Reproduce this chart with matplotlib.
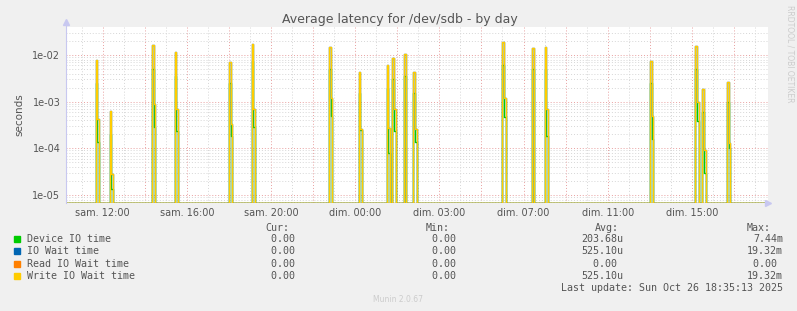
import numpy as np
import matplotlib
matplotlib.use("Agg")
import matplotlib.pyplot as plt

# ---------------- data ----------------
# hours relative to "sam. 12:00"
spike_hours = [-0.30, 0.33, 2.37, 3.44, 5.97, 7.08, 10.73, 12.20, 13.46, 13.75,
               14.32, 14.75, 18.99, 20.41, 21.00, 25.99, 28.14, 28.49, 29.63]
write_peak = [7.8e-3, 6.4e-4, 1.63e-2, 1.16e-2, 7.2e-3, 1.7e-2, 1.5e-2, 4.4e-3, 6.1e-3, 8.8e-3,
              1.05e-2, 4.4e-3, 1.932e-2, 1.43e-2, 1.5e-2, 7.3e-3, 1.55e-2, 1.9e-3, 2.7e-3]
write_tail = [4.3e-4, 2.8e-5, 9.1e-4, 6.8e-4, 3.4e-4, 7.1e-4, 1.2e-3, 2.6e-4, 2.7e-4, 7.0e-4,
              0.0, 2.6e-4, 1.2e-3, 0.0, 6.8e-4, 5.0e-4, 1.0e-3, 9.1e-5, 1.27e-4]
device_peak = [2.5e-3, 2.0e-4, 5.0e-3, 3.5e-3, 2.5e-3, 7.44e-3, 5.0e-3, 1.5e-3, 2.0e-3, 3.0e-3,
               3.5e-3, 1.5e-3, 6.0e-3, 5.0e-3, 5.0e-3, 2.5e-3, 5.0e-3, 6.0e-4, 1.0e-3]
device_tail = [1.4e-4, 1.35e-5, 2.8e-4, 2.3e-4, 1.8e-4, 2.8e-4, 5.0e-4, 2.5e-4, 8.1e-5, 2.3e-4,
               0.0, 1.37e-4, 4.6e-4, 0.0, 1.8e-4, 1.6e-4, 3.8e-4, 3.0e-5, 1.0e-4]

tick_hours = [0, 4, 8, 12, 16, 20, 24, 28]
tick_labels = ["sam. 12:00", "sam. 16:00", "sam. 20:00", "dim. 00:00",
               "dim. 03:00", "dim. 07:00", "dim. 11:00", "dim. 15:00"]

legend_names = ["Device IO time", "IO Wait time", "Read IO Wait time", "Write IO Wait time"]
legend_colors = ["#00CC00", "#0066B3", "#FF8000", "#FFCC00"]
cur_vals = ["0.00", "0.00", "0.00", "0.00"]
min_vals = ["0.00", "0.00", "0.00", "0.00"]
avg_vals = ["203.68u", "525.10u", "0.00", "525.10u"]
max_vals = ["7.44m", "19.32m", "0.00", "19.32m"]

# ---------------- build 5-minute series ----------------
t_start, t_end = -1.744, 31.62
ymin, ymax = 10 ** -5.165, 10 ** -1.407
idx0 = 21
t = (np.arange(0, 402) - idx0) / 12.0
dev = np.zeros_like(t)
wr = np.zeros_like(t)
for h, wp, wt, dp, dt in zip(spike_hours, write_peak, write_tail, device_peak, device_tail):
    i = int(round(h * 12)) + idx0
    wr[i], wr[i + 1] = wp, wt
    dev[i], dev[i + 1] = dp, dt
iow = wr.copy()
rd = np.zeros_like(t)

def floor(v):
    return np.where(v > 0, v, ymin)

# ---------------- figure ----------------
W, H = 797, 311
fig = plt.figure(figsize=(W / 100, H / 100), dpi=100, facecolor="#F0F0F0")
ax = fig.add_axes([66 / W, (H - 202.7) / H, (768 - 66) / W, (202.7 - 27.3) / H])
ax.set_facecolor("white")
ax.set_yscale("log")
ax.set_xlim(t_start, t_end)
ax.set_ylim(ymin, ymax)

# grid
for hh in np.arange(-1, 32):
    col = "#E8A0A0" if hh % 2 == 0 else "#D6D6D6"
    ax.axvline(hh, color=col, lw=0.7, ls=(0, (1, 2)), zorder=0)
for dec in range(-6, -1):
    for m in range(1, 10):
        y = m * 10.0 ** dec
        if ymin <= y <= ymax:
            col = "#E8A0A0" if m == 1 else "#D6D6D6"
            ax.axhline(y, color=col, lw=0.7, ls=(0, (1, 2)), zorder=0)

for series, col in zip([dev, iow, rd, wr], legend_colors):
    ax.step(t, floor(series), where="post", color=col, lw=1.0, zorder=2)

for s in ax.spines.values():
    s.set_visible(False)
ax.tick_params(length=0, labelsize=7, colors="#555555", pad=4)
ax.set_xticks(tick_hours, tick_labels)
ax.set_yticks([1e-5, 1e-4, 1e-3, 1e-2], ["1e-05", "1e-04", "1e-03", "1e-02"])
ax.yaxis.set_minor_locator(matplotlib.ticker.NullLocator())
ax.set_ylabel("seconds", fontsize=7.5, color="#555555", labelpad=6)

# axis arrows
ax.plot([0, 0], [0, 1.02], transform=ax.transAxes, color="#C8C8F0", lw=0.8, clip_on=False)
ax.plot([0], [1.03], marker="^", ms=4, color="#C8C8F0", transform=ax.transAxes, clip_on=False)
ax.plot([1.0], [0], marker=">", ms=4, color="#C8C8F0", transform=ax.transAxes, clip_on=False)

# title
fig.text(400 / W, 1 - 19 / H, "Average latency for /dev/sdb - by day", ha="center", va="center",
         fontsize=9, color="#555555")
fig.text(790 / W, 1 - 5 / H, "RRDTOOL / TOBI OETIKER", rotation=-90, ha="center", va="top",
         fontsize=5.5, color="#CCCCCC")

# legend
mono = dict(family="DejaVu Sans Mono", fontsize=7.2, color="#555555", va="center")
def fy(y):
    return 1 - y / H
fig.text(265 / W, fy(227.7), "Cur:", **mono)
fig.text(426 / W, fy(227.7), "Min:", **mono)
fig.text(595 / W, fy(227.7), "Avg:", **mono)
fig.text(747 / W, fy(227.7), "Max:", **mono)
rows = [239.3, 251.3, 263.7, 275.7]
for y, name, col, c, mi, av, mx in zip(rows, legend_names, legend_colors, cur_vals, min_vals, avg_vals, max_vals):
    fig.patches.append(matplotlib.patches.Rectangle((14 / W, fy(y + 3)), 6 / W, 6 / H,
                                                    transform=fig.transFigure, color=col))
    fig.text(26.7 / W, fy(y), name, **mono)
    fig.text(301 / W, fy(y), c + " ", ha="right", **{k: v for k, v in mono.items()})
    fig.text(462 / W, fy(y), mi + " ", ha="right", **mono)
    fig.text(623 / W, fy(y), av if av[-1] in "um" else av + " ", ha="right", **mono)
    fig.text(783 / W, fy(y), mx if mx[-1] in "um" else mx + " ", ha="right", **mono)
fig.text(783 / W, fy(287.7), "Last update: Sun Oct 26 18:35:13 2025", ha="right", **mono)
fig.text(398 / W, fy(300), "Munin 2.0.67", ha="center", va="center", fontsize=5.5, color="#CCCCCC")

fig.savefig("out.png", dpi=100, facecolor=fig.get_facecolor())
